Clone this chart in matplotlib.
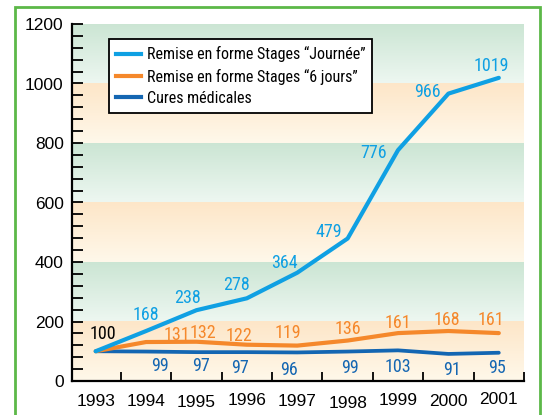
import numpy as np
import matplotlib
matplotlib.use("Agg")
import matplotlib.pyplot as plt
import matplotlib.transforms as mtransforms
from matplotlib.patches import Rectangle
from matplotlib.lines import Line2D
from matplotlib.ticker import MultipleLocator, FixedLocator

# ---- data -------------------------------------------------------------
years = [1993, 1994, 1995, 1996, 1997, 1998, 1999, 2000, 2001]
journee = [100, 168, 238, 278, 364, 479, 776, 966, 1019]
six_jours = [100, 131, 132, 122, 119, 136, 161, 168, 161]
cures = [100, 99, 97, 97, 96, 99, 103, 91, 95]
series_names = ['Remise en forme Stages \u201cJourn\u00e9e\u201d',
                'Remise en forme Stages \u201c6 jours\u201d',
                'Cures m\u00e9dicales']
y_ticks = [0, 200, 400, 600, 800, 1000, 1200]
base_value = 100

# ---- styling ----------------------------------------------------------
c_journee = '#0fa0e3'
c_six = '#f5882b'
c_cures = '#1466b2'
frame_green = '#5cb848'
green_top, green_bottom = '#cbe5d3', '#edf7f1'
orange_top, orange_bottom = '#fde6c8', '#fff8ea'

narrow = ['Roboto Condensed', 'DejaVu Sans']
regular = ['Liberation Sans', 'DejaVu Sans']

# value-label offsets in pixels (dx, dy of the label centre from its point)
journee_off = [None, (0, 17.7), (-9, 13), (-10.6, 14), (-12.5, 11),
               (-19, 8), (-24, -1.5), (-21, 3), (-7, 13.5)]
six_off = [None, (30.5, 8.7), (6.7, 10), (-8, 10.4), (-9, 13.3),
           (0, 13), (0, 11), (-2, 12.7), (-7.6, 14.8)]
cures_off = [None, (14, -13.5), (5, -13), (-7, -15), (-8.5, -16),
             (2, -15), (0, -15), (3.4, -14.4), (-2, -14)]
base_off = (7, 18)
year_label_dy = [0, 0, -1, 1, 0, -2.7, 0.3, 0, 1.5]

W, H, DPI = 542, 415, 100
fig = plt.figure(figsize=(W / DPI, H / DPI), dpi=DPI)
fig.patch.set_facecolor('white')

ax_l, ax_r, ax_t, ax_b = 72, 524, 24, 381
ax = fig.add_axes([ax_l / W, 1 - ax_b / H, (ax_r - ax_l) / W, (ax_b - ax_t) / H])
xlim = (1992.53, 2001.5)
ax.set_xlim(*xlim)
ax.set_ylim(y_ticks[0], y_ticks[-1])

# alternating gradient bands
def band(lo, hi, top, bottom):
    t = np.linspace(0, 1, 64)[:, None]
    c0 = np.array(matplotlib.colors.to_rgb(top))
    c1 = np.array(matplotlib.colors.to_rgb(bottom))
    img = (c0 * (1 - t) + c1 * t)[:, None, :]
    ax.imshow(img, extent=[xlim[0], xlim[1], lo, hi], aspect='auto',
              origin='upper', zorder=0, interpolation='bilinear')

for i in range(len(y_ticks) - 1):
    lo, hi = y_ticks[i], y_ticks[i + 1]
    if i % 2 == 0:
        band(lo, hi, orange_top, orange_bottom)
    else:
        band(lo, hi, green_top, green_bottom)

# lines
ax.plot(years, cures, color=c_cures, lw=2.7, solid_joinstyle='round',
        solid_capstyle='round', zorder=3)
ax.plot(years, six_jours, color=c_six, lw=3.0, solid_joinstyle='round',
        solid_capstyle='round', zorder=4)
ax.plot(years, journee, color=c_journee, lw=3.0, solid_joinstyle='round',
        solid_capstyle='round', zorder=5)

# value labels
cap_half = 6.2
def put(x, v, off, color):
    ax.annotate(str(v), (x, v), xytext=(off[0], off[1] - cap_half),
                textcoords='offset pixels', ha='center', va='baseline',
                color=color, fontsize=13, family=narrow, zorder=6)

put(years[0], base_value, base_off, 'black')
for vals, offs, col in ((journee, journee_off, c_journee),
                        (six_jours, six_off, c_six),
                        (cures, cures_off, c_cures)):
    for x, v, off in zip(years, vals, offs):
        if off is not None:
            put(x, v, off, col)

# axes, ticks
for s in ('top', 'right'):
    ax.spines[s].set_visible(False)
for s in ('left', 'bottom'):
    ax.spines[s].set_linewidth(1.6)
    ax.spines[s].set_color('black')
    ax.spines[s].set_zorder(7)

ax.set_yticks(y_ticks)
ax.yaxis.set_minor_locator(MultipleLocator(40))
ax.tick_params(axis='y', which='both', direction='in', length=8, width=1.3,
               pad=6, labelsize=12.5)
ax.set_xticks(years)
ax.set_xticklabels([str(y) for y in years])
ax.xaxis.set_minor_locator(FixedLocator([y + 0.5 for y in years]))
ax.tick_params(axis='x', which='major', length=0, pad=9, labelsize=12.5)
ax.tick_params(axis='x', which='minor', direction='in', length=6.5, width=1.3)
for lab in ax.get_yticklabels() + ax.get_xticklabels():
    lab.set_family(regular)
for lab, dy in zip(ax.get_xticklabels(), year_label_dy):
    lab.set_transform(lab.get_transform() +
                      mtransforms.ScaledTranslation(0, dy / DPI, fig.dpi_scale_trans))

# legend
handles = [Line2D([], [], color=c, lw=3) for c in (c_journee, c_six, c_cures)]
leg = ax.legend(handles, series_names, loc='upper left',
                bbox_to_anchor=((109 - ax_l) / (ax_r - ax_l), (ax_b - 39.5) / (ax_b - ax_t)),
                borderaxespad=0, frameon=True, fancybox=False, framealpha=1,
                edgecolor='black', facecolor='white', handlelength=1.6,
                handletextpad=0.35, labelspacing=0.4, borderpad=0.42,
                prop={'family': narrow, 'size': 11.5})
leg.get_frame().set_linewidth(1.3)
leg.set_zorder(8)

# outer green frame
fig.patches.append(Rectangle((14.7 / W, -0.1), (540 - 14.7) / W, 1.1 - 6.7 / H,
                             transform=fig.transFigure, fill=False,
                             edgecolor=frame_green, lw=2, clip_on=False))

fig.savefig('out.png', dpi=DPI)
